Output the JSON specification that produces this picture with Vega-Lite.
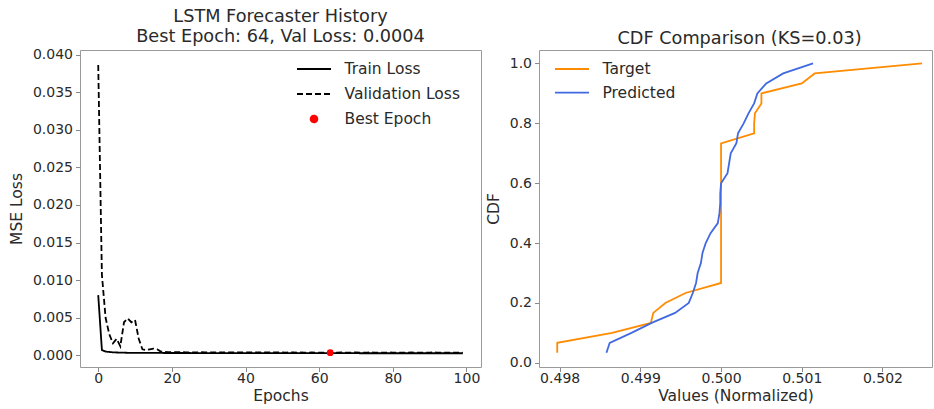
{
  "$schema": "https://vega.github.io/schema/vega-lite/v6.json",
  "background": "white",
  "padding": {"left": 8, "top": 7, "right": 0, "bottom": 0},
  "bounds": "flush",
  "spacing": 58,
  "config": {
    "font": "DejaVu Sans",
    "view": {"stroke": "#9a9a9a", "strokeWidth": 1},
    "axis": {"grid": false, "domain": false, "tickColor": "#8a8a8a", "tickSize": 4.5, "tickWidth": 1, "labelFontSize": 14, "labelColor": "#2a2a2a", "titleFontSize": 15.5, "titleFontWeight": "normal", "titleColor": "#2a2a2a", "labelPadding": 3, "labelOverlap": false, "labelFlush": false},
    "title": {"fontSize": 17.7, "fontWeight": "normal", "color": "#2a2a2a", "lineHeight": 19.5},
    "legend": {"labelFontSize": 15.5, "labelColor": "#2a2a2a", "title": null}
  },
  "datasets": {
    "history": [
      {"epoch": 0, "Train Loss": 0.0080, "Validation Loss": 0.0386},
      {"epoch": 1, "Train Loss": 0.0007, "Validation Loss": 0.0107},
      {"epoch": 2, "Train Loss": 0.0005, "Validation Loss": 0.0050},
      {"epoch": 3, "Train Loss": 0.00045, "Validation Loss": 0.0028},
      {"epoch": 4, "Train Loss": 0.0004, "Validation Loss": 0.0016},
      {"epoch": 5, "Train Loss": 0.00038, "Validation Loss": 0.0022},
      {"epoch": 6, "Train Loss": 0.00036, "Validation Loss": 0.0012},
      {"epoch": 7, "Train Loss": 0.00035, "Validation Loss": 0.0044},
      {"epoch": 8, "Train Loss": 0.00034, "Validation Loss": 0.0049},
      {"epoch": 9, "Train Loss": 0.00034, "Validation Loss": 0.0044},
      {"epoch": 10, "Train Loss": 0.00033, "Validation Loss": 0.0047},
      {"epoch": 11, "Train Loss": 0.00033, "Validation Loss": 0.0022},
      {"epoch": 12, "Train Loss": 0.00033, "Validation Loss": 0.0008},
      {"epoch": 13, "Train Loss": 0.00032, "Validation Loss": 0.0007},
      {"epoch": 14, "Train Loss": 0.00032, "Validation Loss": 0.0008},
      {"epoch": 15, "Train Loss": 0.00032, "Validation Loss": 0.0009},
      {"epoch": 16, "Train Loss": 0.00032, "Validation Loss": 0.0008},
      {"epoch": 17, "Train Loss": 0.00032, "Validation Loss": 0.0005},
      {"epoch": 18, "Train Loss": 0.00031, "Validation Loss": 0.00045},
      {"epoch": 19, "Train Loss": 0.00031, "Validation Loss": 0.00042},
      {"epoch": 20, "Train Loss": 0.00031, "Validation Loss": 0.00041},
      {"epoch": 21, "Train Loss": 0.00031, "Validation Loss": 0.00041},
      {"epoch": 22, "Train Loss": 0.00031, "Validation Loss": 0.00042},
      {"epoch": 23, "Train Loss": 0.00031, "Validation Loss": 0.00041},
      {"epoch": 24, "Train Loss": 0.00031, "Validation Loss": 0.0004},
      {"epoch": 25, "Train Loss": 0.00031, "Validation Loss": 0.00041},
      {"epoch": 26, "Train Loss": 0.0003, "Validation Loss": 0.0004},
      {"epoch": 27, "Train Loss": 0.0003, "Validation Loss": 0.0004},
      {"epoch": 28, "Train Loss": 0.0003, "Validation Loss": 0.00041},
      {"epoch": 29, "Train Loss": 0.0003, "Validation Loss": 0.0004},
      {"epoch": 30, "Train Loss": 0.0003, "Validation Loss": 0.0004},
      {"epoch": 31, "Train Loss": 0.0003, "Validation Loss": 0.00039},
      {"epoch": 32, "Train Loss": 0.0003, "Validation Loss": 0.0004},
      {"epoch": 33, "Train Loss": 0.0003, "Validation Loss": 0.0004},
      {"epoch": 34, "Train Loss": 0.0003, "Validation Loss": 0.00039},
      {"epoch": 35, "Train Loss": 0.0003, "Validation Loss": 0.0004},
      {"epoch": 36, "Train Loss": 0.0003, "Validation Loss": 0.00039},
      {"epoch": 37, "Train Loss": 0.0003, "Validation Loss": 0.00039},
      {"epoch": 38, "Train Loss": 0.0003, "Validation Loss": 0.0004},
      {"epoch": 39, "Train Loss": 0.0003, "Validation Loss": 0.00039},
      {"epoch": 40, "Train Loss": 0.0003, "Validation Loss": 0.00039},
      {"epoch": 41, "Train Loss": 0.0003, "Validation Loss": 0.00038},
      {"epoch": 42, "Train Loss": 0.0003, "Validation Loss": 0.00039},
      {"epoch": 43, "Train Loss": 0.0003, "Validation Loss": 0.00039},
      {"epoch": 44, "Train Loss": 0.0003, "Validation Loss": 0.00038},
      {"epoch": 45, "Train Loss": 0.0003, "Validation Loss": 0.00039},
      {"epoch": 46, "Train Loss": 0.00029, "Validation Loss": 0.00038},
      {"epoch": 47, "Train Loss": 0.00029, "Validation Loss": 0.00038},
      {"epoch": 48, "Train Loss": 0.00029, "Validation Loss": 0.00039},
      {"epoch": 49, "Train Loss": 0.00029, "Validation Loss": 0.00038},
      {"epoch": 50, "Train Loss": 0.00029, "Validation Loss": 0.00038},
      {"epoch": 51, "Train Loss": 0.00029, "Validation Loss": 0.00037},
      {"epoch": 52, "Train Loss": 0.00029, "Validation Loss": 0.00038},
      {"epoch": 53, "Train Loss": 0.00029, "Validation Loss": 0.00038},
      {"epoch": 54, "Train Loss": 0.00029, "Validation Loss": 0.00037},
      {"epoch": 55, "Train Loss": 0.00029, "Validation Loss": 0.00038},
      {"epoch": 56, "Train Loss": 0.00029, "Validation Loss": 0.00037},
      {"epoch": 57, "Train Loss": 0.00029, "Validation Loss": 0.00037},
      {"epoch": 58, "Train Loss": 0.00029, "Validation Loss": 0.00038},
      {"epoch": 59, "Train Loss": 0.00029, "Validation Loss": 0.00037},
      {"epoch": 60, "Train Loss": 0.00029, "Validation Loss": 0.00037},
      {"epoch": 61, "Train Loss": 0.00029, "Validation Loss": 0.00037},
      {"epoch": 62, "Train Loss": 0.00029, "Validation Loss": 0.00037},
      {"epoch": 63, "Train Loss": 0.00029, "Validation Loss": 0.00036},
      {"epoch": 64, "Train Loss": 0.00029, "Validation Loss": 0.00037},
      {"epoch": 65, "Train Loss": 0.00029, "Validation Loss": 0.00037},
      {"epoch": 66, "Train Loss": 0.00029, "Validation Loss": 0.00038},
      {"epoch": 67, "Train Loss": 0.00029, "Validation Loss": 0.00037},
      {"epoch": 68, "Train Loss": 0.00029, "Validation Loss": 0.00037},
      {"epoch": 69, "Train Loss": 0.00029, "Validation Loss": 0.00037},
      {"epoch": 70, "Train Loss": 0.00029, "Validation Loss": 0.00038},
      {"epoch": 71, "Train Loss": 0.00028, "Validation Loss": 0.00037},
      {"epoch": 72, "Train Loss": 0.00028, "Validation Loss": 0.00037},
      {"epoch": 73, "Train Loss": 0.00028, "Validation Loss": 0.00037},
      {"epoch": 74, "Train Loss": 0.00028, "Validation Loss": 0.00038},
      {"epoch": 75, "Train Loss": 0.00028, "Validation Loss": 0.00037},
      {"epoch": 76, "Train Loss": 0.00028, "Validation Loss": 0.00037},
      {"epoch": 77, "Train Loss": 0.00028, "Validation Loss": 0.00037},
      {"epoch": 78, "Train Loss": 0.00028, "Validation Loss": 0.00037},
      {"epoch": 79, "Train Loss": 0.00028, "Validation Loss": 0.00038},
      {"epoch": 80, "Train Loss": 0.00028, "Validation Loss": 0.00037},
      {"epoch": 81, "Train Loss": 0.00028, "Validation Loss": 0.00037},
      {"epoch": 82, "Train Loss": 0.00028, "Validation Loss": 0.00037},
      {"epoch": 83, "Train Loss": 0.00028, "Validation Loss": 0.00037},
      {"epoch": 84, "Train Loss": 0.00028, "Validation Loss": 0.00037},
      {"epoch": 85, "Train Loss": 0.00028, "Validation Loss": 0.00038},
      {"epoch": 86, "Train Loss": 0.00028, "Validation Loss": 0.00037},
      {"epoch": 87, "Train Loss": 0.00028, "Validation Loss": 0.00037},
      {"epoch": 88, "Train Loss": 0.00028, "Validation Loss": 0.00037},
      {"epoch": 89, "Train Loss": 0.00028, "Validation Loss": 0.00037},
      {"epoch": 90, "Train Loss": 0.00028, "Validation Loss": 0.00037},
      {"epoch": 91, "Train Loss": 0.00028, "Validation Loss": 0.00038},
      {"epoch": 92, "Train Loss": 0.00028, "Validation Loss": 0.00037},
      {"epoch": 93, "Train Loss": 0.00028, "Validation Loss": 0.00037},
      {"epoch": 94, "Train Loss": 0.00028, "Validation Loss": 0.00037},
      {"epoch": 95, "Train Loss": 0.00028, "Validation Loss": 0.00037},
      {"epoch": 96, "Train Loss": 0.00028, "Validation Loss": 0.00037},
      {"epoch": 97, "Train Loss": 0.00028, "Validation Loss": 0.00037},
      {"epoch": 98, "Train Loss": 0.00028, "Validation Loss": 0.00037},
      {"epoch": 99, "Train Loss": 0.00028, "Validation Loss": 0.00037}
    ],
    "best": [
      {"epoch": 63, "series": "Best Epoch", "loss": 0.00036}
    ],
    "cdf": [
      {"value": 0.49797, "cdf": 0.0333, "series": "Target"},
      {"value": 0.49797, "cdf": 0.0667, "series": "Target"},
      {"value": 0.49865, "cdf": 0.1, "series": "Target"},
      {"value": 0.49913, "cdf": 0.1333, "series": "Target"},
      {"value": 0.49916, "cdf": 0.1667, "series": "Target"},
      {"value": 0.49931, "cdf": 0.2, "series": "Target"},
      {"value": 0.49956, "cdf": 0.2333, "series": "Target"},
      {"value": 0.5, "cdf": 0.2667, "series": "Target"},
      {"value": 0.5, "cdf": 0.3, "series": "Target"},
      {"value": 0.5, "cdf": 0.3333, "series": "Target"},
      {"value": 0.5, "cdf": 0.3667, "series": "Target"},
      {"value": 0.5, "cdf": 0.4, "series": "Target"},
      {"value": 0.5, "cdf": 0.4333, "series": "Target"},
      {"value": 0.5, "cdf": 0.4667, "series": "Target"},
      {"value": 0.5, "cdf": 0.5, "series": "Target"},
      {"value": 0.5, "cdf": 0.5333, "series": "Target"},
      {"value": 0.5, "cdf": 0.5667, "series": "Target"},
      {"value": 0.5, "cdf": 0.6, "series": "Target"},
      {"value": 0.5, "cdf": 0.6333, "series": "Target"},
      {"value": 0.5, "cdf": 0.6667, "series": "Target"},
      {"value": 0.5, "cdf": 0.7, "series": "Target"},
      {"value": 0.5, "cdf": 0.7333, "series": "Target"},
      {"value": 0.50041, "cdf": 0.7667, "series": "Target"},
      {"value": 0.50041, "cdf": 0.8, "series": "Target"},
      {"value": 0.50042, "cdf": 0.8333, "series": "Target"},
      {"value": 0.5005, "cdf": 0.8667, "series": "Target"},
      {"value": 0.5005, "cdf": 0.9, "series": "Target"},
      {"value": 0.501, "cdf": 0.9333, "series": "Target"},
      {"value": 0.50116, "cdf": 0.9667, "series": "Target"},
      {"value": 0.50249, "cdf": 1.0, "series": "Target"},
      {"value": 0.49858, "cdf": 0.0333, "series": "Predicted"},
      {"value": 0.49862, "cdf": 0.0667, "series": "Predicted"},
      {"value": 0.49889, "cdf": 0.1, "series": "Predicted"},
      {"value": 0.49914, "cdf": 0.1333, "series": "Predicted"},
      {"value": 0.49943, "cdf": 0.1667, "series": "Predicted"},
      {"value": 0.4996, "cdf": 0.2, "series": "Predicted"},
      {"value": 0.49965, "cdf": 0.2333, "series": "Predicted"},
      {"value": 0.49969, "cdf": 0.2667, "series": "Predicted"},
      {"value": 0.49971, "cdf": 0.3, "series": "Predicted"},
      {"value": 0.49975, "cdf": 0.3333, "series": "Predicted"},
      {"value": 0.49977, "cdf": 0.3667, "series": "Predicted"},
      {"value": 0.49981, "cdf": 0.4, "series": "Predicted"},
      {"value": 0.49987, "cdf": 0.4333, "series": "Predicted"},
      {"value": 0.49996, "cdf": 0.4667, "series": "Predicted"},
      {"value": 0.49998, "cdf": 0.5, "series": "Predicted"},
      {"value": 0.49999, "cdf": 0.5333, "series": "Predicted"},
      {"value": 0.49999, "cdf": 0.5667, "series": "Predicted"},
      {"value": 0.5, "cdf": 0.6, "series": "Predicted"},
      {"value": 0.50008, "cdf": 0.6333, "series": "Predicted"},
      {"value": 0.5001, "cdf": 0.6667, "series": "Predicted"},
      {"value": 0.50012, "cdf": 0.7, "series": "Predicted"},
      {"value": 0.50019, "cdf": 0.7333, "series": "Predicted"},
      {"value": 0.50021, "cdf": 0.7667, "series": "Predicted"},
      {"value": 0.50028, "cdf": 0.8, "series": "Predicted"},
      {"value": 0.50034, "cdf": 0.8333, "series": "Predicted"},
      {"value": 0.50041, "cdf": 0.8667, "series": "Predicted"},
      {"value": 0.50045, "cdf": 0.9, "series": "Predicted"},
      {"value": 0.50056, "cdf": 0.9333, "series": "Predicted"},
      {"value": 0.50077, "cdf": 0.9667, "series": "Predicted"},
      {"value": 0.50114, "cdf": 1.0, "series": "Predicted"}
    ]
  },
  "resolve": {"scale": {"color": "independent", "x": "independent", "y": "independent"}, "legend": {"color": "independent"}},
  "hconcat": [
    {
      "width": 401,
      "height": 317,
      "title": {"text": ["LSTM Forecaster History", "Best Epoch: 64, Val Loss: 0.0004"], "anchor": "middle", "offset": 2},
      "encoding": {
        "x": {"field": "epoch", "type": "quantitative", "scale": {"domain": [-4.95, 103.95], "nice": false, "zero": false}, "axis": {"values": [0, 20, 40, 60, 80, 100], "title": "Epochs", "titlePadding": 3, "labelPadding": 0, "labelOverlap": false, "labelFlush": false, "labelBound": false, "zindex": 2}},
        "y": {"field": "loss", "type": "quantitative", "scale": {"domain": [-0.00155, 0.0406], "nice": false, "zero": false}, "axis": {"values": [0, 0.005, 0.01, 0.015, 0.02, 0.025, 0.03, 0.035, 0.04], "format": ".3f", "title": "MSE Loss", "titlePadding": 8, "labelOverlap": false}}
      },
      "layer": [
        {
          "data": {"name": "history"},
          "transform": [{"fold": ["Train Loss", "Validation Loss"], "as": ["series", "loss"]}],
          "mark": {"type": "line", "strokeWidth": 1.8},
          "encoding": {
            "color": {"field": "series", "type": "nominal", "scale": {"domain": ["Train Loss", "Validation Loss", "Best Epoch"], "range": ["black", "black", "red"]},
              "legend": {
                "orient": "none", "legendX": 223, "legendY": 8, "padding": 0, "symbolType": "M-1.7,0H1.7", "symbolSize": 400, "symbolStrokeWidth": 1.8, "labelOffset": 19.5, "rowPadding": 5,
                "encode": {"symbols": {"update": {
                  "shape": {"signal": "datum.value === 'Best Epoch' ? 'circle' : 'M-1.7,0H1.7'"},
                  "size": {"signal": "datum.value === 'Best Epoch' ? 45 : 400"},
                  "fill": {"signal": "datum.value === 'Best Epoch' ? 'red' : 'transparent'"},
                  "stroke": {"signal": "datum.value === 'Best Epoch' ? 'transparent' : 'black'"},
                  "strokeDash": {"signal": "datum.value === 'Validation Loss' ? [6, 3] : [1, 0]"},
                  "strokeWidth": {"value": 1.8}
                }}}
              }},
            "strokeDash": {"field": "series", "type": "nominal", "scale": {"domain": ["Train Loss", "Validation Loss"], "range": [[1, 0], [6, 3]]}, "legend": null}
          }
        },
        {
          "data": {"name": "best"},
          "mark": {"type": "point", "filled": true, "size": 45, "opacity": 1},
          "encoding": {
            "color": {"field": "series", "type": "nominal"}
          }
        }
      ]
    },
    {
      "width": 393,
      "height": 317,
      "title": {"text": "CDF Comparison (KS=0.03)", "anchor": "middle", "offset": 2, "dx": 4},
      "data": {"name": "cdf"},
      "mark": {"type": "line", "strokeWidth": 1.8},
      "encoding": {
        "x": {"field": "value", "type": "quantitative", "scale": {"domain": [0.497744, 0.502614], "nice": false, "zero": false}, "axis": {"values": [0.498, 0.499, 0.5, 0.501, 0.502], "format": ".3f", "title": "Values (Normalized)", "titlePadding": 3, "labelPadding": 0}},
        "y": {"field": "cdf", "type": "quantitative", "scale": {"domain": [-0.014, 1.045], "nice": false, "zero": false}, "axis": {"values": [0, 0.2, 0.4, 0.6, 0.8, 1.0], "format": ".1f", "title": "CDF", "titlePadding": 8}},
        "color": {"field": "series", "type": "nominal", "scale": {"domain": ["Target", "Predicted"], "range": ["#ff8c00", "#4169e1"]},
          "legend": {"orient": "none", "legendX": 22, "legendY": 8, "padding": 0, "symbolType": "M-1.7,0H1.7", "symbolSize": 400, "symbolStrokeWidth": 1.8, "labelOffset": 19.5, "rowPadding": 3.7,
            "encode": {"symbols": {"update": {"strokeWidth": {"value": 1.8}}}}}},
        "order": {"field": "cdf", "type": "quantitative"}
      }
    }
  ]
}
